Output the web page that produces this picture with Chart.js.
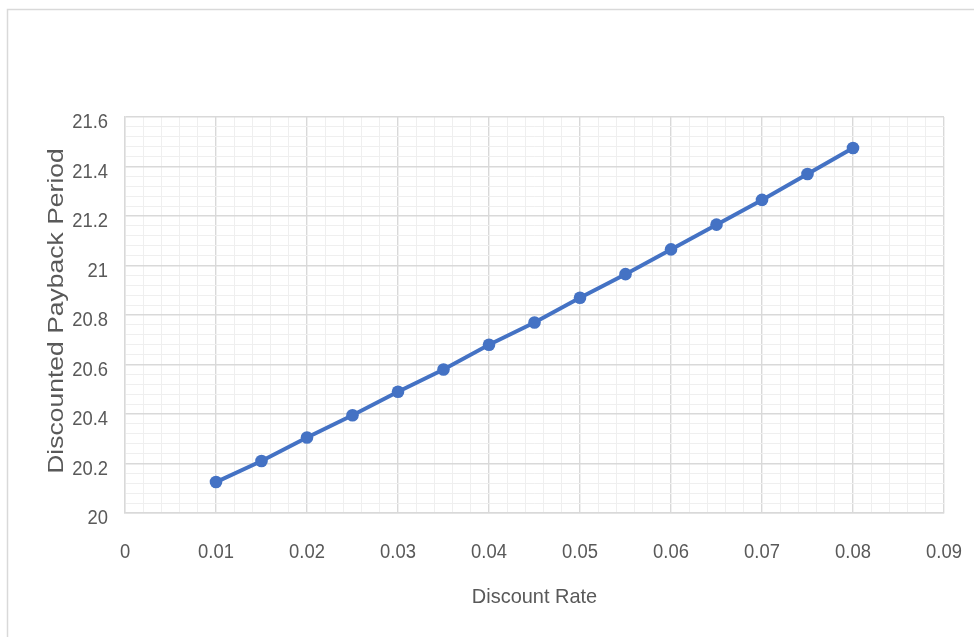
<!DOCTYPE html>
<html>
<head>
<meta charset="utf-8">
<script src="https://cdn.jsdelivr.net/npm/chart.js@4"></script>
<style>
  html, body { margin: 0; padding: 0; background: #ffffff; }
  #wrap { width: 974px; height: 637px; position: relative; }
</style>
</head>
<body>
<div id="wrap"><canvas id="c" width="974" height="637"></canvas></div>
<script>
// Discount rate vs. discounted payback period
const discountRates = [0.01, 0.015, 0.02, 0.025, 0.03, 0.035, 0.04, 0.045, 0.05, 0.055, 0.06, 0.065, 0.07, 0.075, 0.08];
const paybackPeriods = [20.125, 20.21, 20.305, 20.395, 20.49, 20.58, 20.68, 20.77, 20.87, 20.965, 21.065, 21.165, 21.265, 21.37, 21.475];

// Major tick labels; minor grid lines sit between them (5 per major step)
const xTickLabels = ['0', '0.01', '0.02', '0.03', '0.04', '0.05', '0.06', '0.07', '0.08', '0.09'];
const yTickLabels = ['20', '20.2', '20.4', '20.6', '20.8', '21', '21.2', '21.4', '21.6'];
const minorPerMajor = 5;

const xTitle = 'Discount Rate';
const yTitle = 'Discounted Payback Period';

const textFont = '"Liberation Sans", Arial, sans-serif';
const textColor = '#595959';
const majorGrid = '#d9d9d9';
const minorGrid = '#efefef';

// White background and the light outer frame
const frame = {
  id: 'frame',
  beforeDraw(chart) {
    const ctx = chart.ctx;
    ctx.save();
    ctx.fillStyle = '#ffffff';
    ctx.fillRect(0, 0, chart.width, chart.height);
    ctx.strokeStyle = '#d9d9d9';
    ctx.lineWidth = 1.5;
    ctx.strokeRect(7.5, 9.5, chart.width + 10, chart.height + 10);
    ctx.restore();
  }
};

// Narrow-set axis text: tick labels at the scales' major ticks, plus axis titles
function drawNarrow(ctx, text, x, y, sx, align, rotate) {
  ctx.save();
  ctx.translate(x, y);
  ctx.scale(sx, 1);
  if (rotate) ctx.rotate(-Math.PI / 2);
  ctx.textAlign = align;
  ctx.textBaseline = 'alphabetic';
  ctx.fillText(text, 0, 0);
  ctx.restore();
}

const axisText = {
  id: 'axisText',
  afterDraw(chart) {
    const ctx = chart.ctx;
    const xs = chart.scales.x;
    const ys = chart.scales.y;
    const area = chart.chartArea;
    ctx.save();
    ctx.fillStyle = textColor;

    ctx.font = '20px ' + textFont;
    xs.ticks.forEach((t, i) => {
      if (i % minorPerMajor) return;
      drawNarrow(ctx, xTickLabels[i / minorPerMajor], xs.getPixelForValue(t.value), area.bottom + 44.5, 0.92, 'center');
    });
    ys.ticks.forEach((t, i) => {
      if (i % minorPerMajor) return;
      drawNarrow(ctx, yTickLabels[i / minorPerMajor], area.left - 17, ys.getPixelForValue(t.value) + 11, 0.92, 'right');
    });

    ctx.font = '21px ' + textFont;
    drawNarrow(ctx, xTitle, (area.left + area.right) / 2, area.bottom + 89.5, 0.95, 'center');

    ctx.font = '26.5px ' + textFont;
    drawNarrow(ctx, yTitle, area.left - 62.5, (area.top + area.bottom) / 2 - 4, 0.84, 'center', true);

    ctx.restore();
  }
};

function gridColor(ctx) {
  return ctx.index % minorPerMajor === 0 ? majorGrid : minorGrid;
}
function gridWidth(ctx) {
  return ctx.index % minorPerMajor === 0 ? 1.4 : 1;
}

new Chart(document.getElementById('c'), {
  type: 'line',
  data: {
    datasets: [{
      data: discountRates.map((r, i) => ({ x: r, y: paybackPeriods[i] })),
      borderColor: '#4472C4',
      backgroundColor: '#4472C4',
      borderWidth: 4,
      pointRadius: 6.3,
      pointHoverRadius: 6.3,
      pointBorderWidth: 0,
      tension: 0
    }]
  },
  options: {
    responsive: false,
    animation: false,
    layout: { padding: { left: 0, top: 117, right: 30, bottom: 0 } },
    plugins: { legend: { display: false }, tooltip: { enabled: false } },
    scales: {
      x: {
        type: 'linear',
        min: 0,
        max: 0.09,
        afterBuildTicks(scale) {
          const step = 0.01 / minorPerMajor;
          const n = (xTickLabels.length - 1) * minorPerMajor;
          scale.ticks = Array.from({ length: n + 1 }, (_, i) => ({ value: i * step }));
        },
        afterFit(scale) { scale.height = 124; },
        grid: { color: gridColor, lineWidth: gridWidth, drawTicks: false },
        border: { color: majorGrid, width: 1.4 },
        ticks: { display: false, autoSkip: false }
      },
      y: {
        type: 'linear',
        min: 20,
        max: 21.6,
        afterBuildTicks(scale) {
          const step = 0.2 / minorPerMajor;
          const n = (yTickLabels.length - 1) * minorPerMajor;
          scale.ticks = Array.from({ length: n + 1 }, (_, i) => ({ value: 20 + i * step }));
        },
        afterFit(scale) { scale.width = 125; },
        grid: { color: gridColor, lineWidth: gridWidth, drawTicks: false },
        border: { color: majorGrid, width: 1.4 },
        ticks: { display: false, autoSkip: false }
      }
    }
  },
  plugins: [frame, axisText]
});
</script>
</body>
</html>
